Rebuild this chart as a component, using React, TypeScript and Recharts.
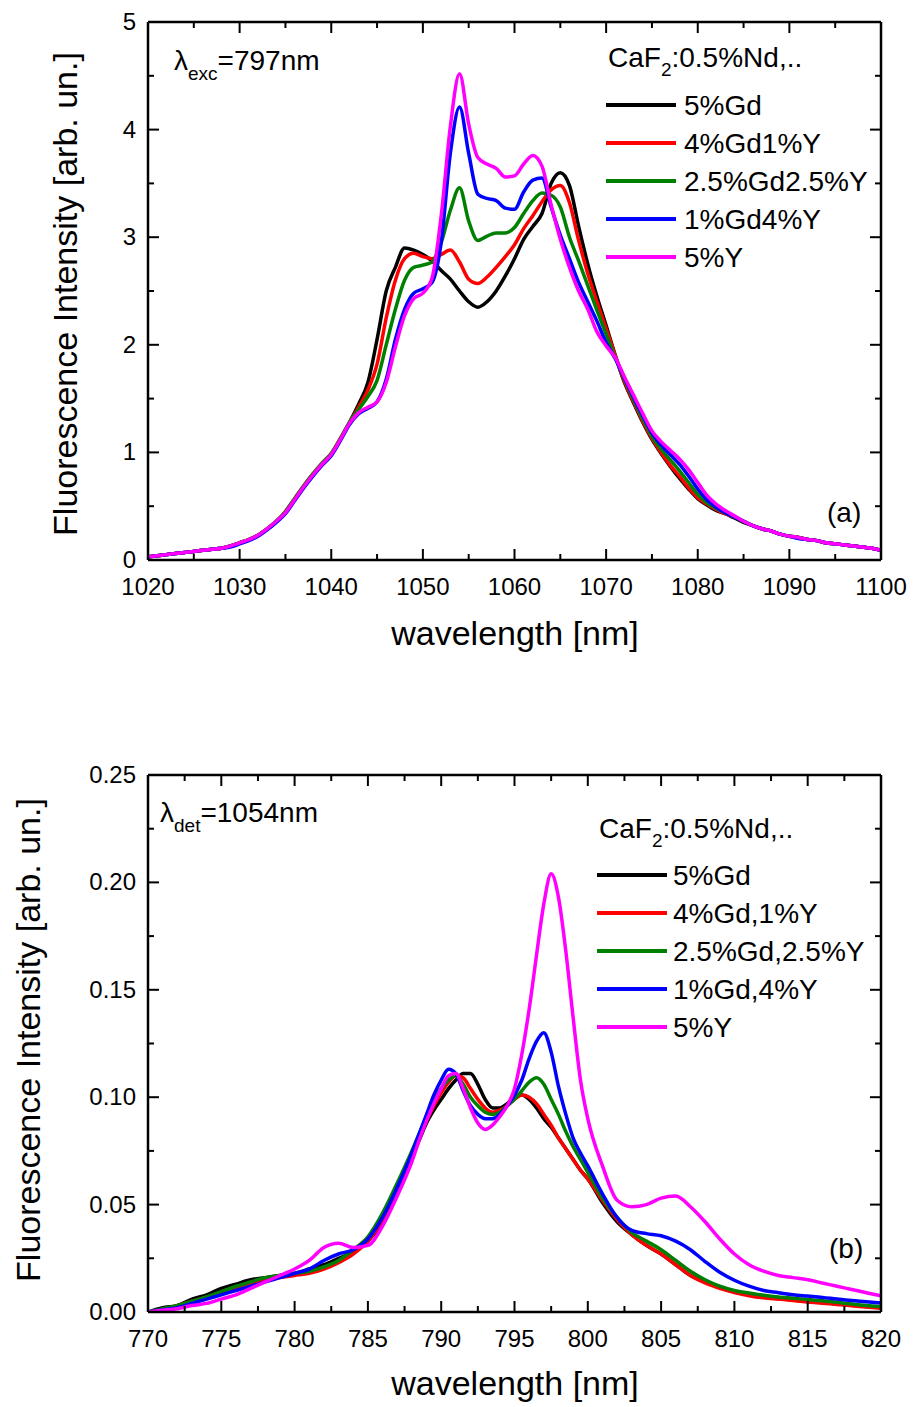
import React from 'react';
import { LineChart, Line, XAxis, YAxis } from 'recharts';

const FONT = '"Liberation Sans", Arial, sans-serif';

// ---- panel (a): emission, excitation at 797 nm ----
const wavelengthA = [
  1020, 1021, 1022, 1023, 1024, 1025, 1026, 1027, 1028, 1029,
  1030, 1031, 1032, 1033, 1034, 1035, 1036, 1037, 1038, 1039,
  1040, 1041, 1042, 1043, 1044, 1045, 1046, 1047, 1048, 1049,
  1050, 1051, 1052, 1053, 1054, 1055, 1056, 1057, 1058, 1059,
  1060, 1061, 1062, 1063, 1064, 1065, 1066, 1067, 1068, 1069,
  1070, 1071, 1072, 1073, 1074, 1075, 1076, 1077, 1078, 1079,
  1080, 1081, 1082, 1083, 1084, 1085, 1086, 1087, 1088, 1089,
  1090, 1091, 1092, 1093, 1094, 1095, 1096, 1097, 1098, 1099, 1100,
];
const gd5A = [
  0.03, 0.04, 0.05, 0.06, 0.07, 0.08, 0.09, 0.10, 0.11, 0.13, 0.16, 0.19, 0.23, 0.29, 0.36, 0.44, 0.56, 0.68, 0.79, 0.89, 0.98, 1.12, 1.28,
  1.45, 1.65, 2.05, 2.50, 2.72, 2.90, 2.88, 2.84, 2.78, 2.69, 2.61, 2.50, 2.40, 2.35, 2.40, 2.50, 2.64, 2.80, 2.98, 3.10, 3.22, 3.50, 3.60, 3.48, 3.10, 2.75, 2.45, 2.18, 1.90,
  1.65, 1.46, 1.28, 1.12, 0.99, 0.87, 0.76, 0.66, 0.57, 0.51, 0.46, 0.43, 0.39, 0.35, 0.32, 0.29, 0.27, 0.24, 0.22, 0.21, 0.19, 0.18, 0.16, 0.15, 0.14, 0.13, 0.12, 0.11, 0.09,
];
const gd4y1A = [
  0.03, 0.04, 0.05, 0.06, 0.07, 0.08, 0.09, 0.10, 0.11, 0.13, 0.16, 0.19, 0.23, 0.29, 0.36, 0.45, 0.57, 0.69, 0.80, 0.90, 0.99, 1.13, 1.28,
  1.42, 1.58, 1.82, 2.25, 2.60, 2.80, 2.85, 2.82, 2.80, 2.84, 2.88, 2.77, 2.61, 2.57, 2.63, 2.72, 2.82, 2.93, 3.08, 3.20, 3.33, 3.44, 3.48, 3.32, 2.97, 2.66, 2.40, 2.15, 1.90,
  1.66, 1.47, 1.29, 1.13, 1.00, 0.88, 0.78, 0.67, 0.58, 0.52, 0.47, 0.43, 0.40, 0.36, 0.32, 0.29, 0.27, 0.24, 0.22, 0.21, 0.19, 0.18, 0.16, 0.15, 0.14, 0.13, 0.12, 0.11, 0.09,
];
const gd25y25A = [
  0.03, 0.04, 0.05, 0.06, 0.07, 0.08, 0.09, 0.10, 0.11, 0.13, 0.16, 0.19, 0.23, 0.29, 0.36, 0.45, 0.57, 0.69, 0.80, 0.90, 0.99, 1.13, 1.28,
  1.40, 1.52, 1.67, 2.00, 2.33, 2.60, 2.72, 2.74, 2.77, 2.95, 3.25, 3.46, 3.15, 2.97, 3.01, 3.04, 3.04, 3.09, 3.22, 3.34, 3.41, 3.39, 3.28, 3.00, 2.78, 2.55, 2.32, 2.10, 1.88,
  1.68, 1.49, 1.31, 1.15, 1.03, 0.93, 0.83, 0.72, 0.61, 0.53, 0.48, 0.44, 0.40, 0.36, 0.32, 0.29, 0.27, 0.24, 0.22, 0.21, 0.19, 0.18, 0.16, 0.15, 0.14, 0.13, 0.12, 0.11, 0.09,
];
const gd1y4A = [
  0.03, 0.04, 0.05, 0.06, 0.07, 0.08, 0.09, 0.10, 0.11, 0.12, 0.15, 0.18, 0.22, 0.28, 0.35, 0.43, 0.55, 0.67, 0.78, 0.88, 0.97, 1.11, 1.26,
  1.36, 1.41, 1.47, 1.68, 2.05, 2.33, 2.48, 2.52, 2.58, 2.95, 3.78, 4.21, 3.78, 3.40, 3.36, 3.34, 3.27, 3.26, 3.42, 3.53, 3.55, 3.28, 3.02, 2.80, 2.58, 2.40, 2.22, 2.02, 1.87,
  1.69, 1.51, 1.34, 1.18, 1.07, 0.98, 0.89, 0.78, 0.66, 0.56, 0.49, 0.44, 0.40, 0.36, 0.32, 0.29, 0.27, 0.24, 0.22, 0.20, 0.19, 0.18, 0.16, 0.15, 0.14, 0.13, 0.12, 0.11, 0.09,
];
const y5A = [
  0.03, 0.04, 0.05, 0.06, 0.07, 0.08, 0.09, 0.10, 0.11, 0.13, 0.16, 0.19, 0.23, 0.29, 0.36, 0.44, 0.56, 0.68, 0.79, 0.89, 0.98, 1.12, 1.27,
  1.37, 1.42, 1.47, 1.65, 1.98, 2.27, 2.43, 2.48, 2.62, 3.20, 4.03, 4.52, 4.05, 3.74, 3.68, 3.64, 3.56, 3.57, 3.68, 3.76, 3.66, 3.30, 2.98, 2.72, 2.50, 2.33, 2.12, 1.99, 1.88,
  1.70, 1.53, 1.36, 1.20, 1.10, 1.02, 0.94, 0.84, 0.72, 0.60, 0.52, 0.46, 0.41, 0.36, 0.32, 0.29, 0.27, 0.24, 0.22, 0.21, 0.19, 0.18, 0.16, 0.15, 0.14, 0.13, 0.12, 0.11, 0.09,
];
const xTicksA = [1020, 1025, 1030, 1035, 1040, 1045, 1050, 1055, 1060, 1065, 1070, 1075, 1080, 1085, 1090, 1095, 1100];
const xMajorA = [1020, 1030, 1040, 1050, 1060, 1070, 1080, 1090, 1100];
const yTicksA = [0, 0.5, 1, 1.5, 2, 2.5, 3, 3.5, 4, 4.5, 5];
const yMajorA = [0, 1, 2, 3, 4, 5];
const namesA = ['5%Gd', '4%Gd1%Y', '2.5%Gd2.5%Y', '1%Gd4%Y', '5%Y'];

// ---- panel (b): excitation, detection at 1054 nm ----
const wavelengthB = [
  770, 771, 772, 773, 774, 775, 776, 777, 778, 779, 780, 781, 782, 783, 784, 785, 786, 787, 788,
  788.5, 789, 789.5, 790, 790.5, 791, 791.5, 792, 792.5, 793, 793.5, 794, 794.5, 795, 795.5, 796, 796.5, 797, 797.5, 798, 798.5, 799, 799.5, 800,
  801, 802, 803, 804, 805, 806, 807, 808, 809, 810, 811, 812, 813, 814, 815, 816, 817, 818, 819, 820,
];
const gd5B = [
  0.000, 0.002, 0.003, 0.006, 0.008, 0.011, 0.013, 0.015, 0.016, 0.017, 0.018, 0.020, 0.022, 0.025, 0.028, 0.033, 0.042, 0.057, 0.072,
  0.080, 0.088, 0.094, 0.099, 0.104, 0.108, 0.111, 0.111, 0.106, 0.099, 0.095, 0.095, 0.097, 0.100, 0.101, 0.099, 0.095, 0.090, 0.086, 0.081, 0.076, 0.071, 0.066, 0.062,
  0.051, 0.042, 0.036, 0.031, 0.027, 0.022, 0.017, 0.014, 0.0115, 0.0093, 0.008, 0.0069, 0.0062, 0.0056, 0.0049, 0.0044, 0.0038, 0.0031, 0.0025, 0.002,
];
const gd4y1B = [
  0.000, 0.001, 0.003, 0.005, 0.007, 0.009, 0.011, 0.013, 0.015, 0.016, 0.017, 0.018, 0.020, 0.023, 0.027, 0.033, 0.043, 0.058, 0.073,
  0.081, 0.089, 0.096, 0.102, 0.107, 0.110, 0.109, 0.104, 0.099, 0.095, 0.093, 0.094, 0.096, 0.099, 0.101, 0.100, 0.097, 0.092, 0.087, 0.081, 0.076, 0.071, 0.066, 0.062,
  0.052, 0.043, 0.036, 0.031, 0.027, 0.022, 0.017, 0.0135, 0.011, 0.0091, 0.0076, 0.0066, 0.006, 0.0054, 0.0047, 0.0041, 0.0035, 0.0029, 0.0023, 0.0018,
];
const gd25y25B = [
  0.000, 0.0015, 0.003, 0.005, 0.007, 0.0095, 0.012, 0.014, 0.016, 0.017, 0.018, 0.019, 0.021, 0.024, 0.029, 0.035, 0.046, 0.060, 0.075,
  0.083, 0.091, 0.098, 0.104, 0.108, 0.110, 0.106, 0.100, 0.096, 0.093, 0.092, 0.093, 0.096, 0.099, 0.103, 0.107, 0.109, 0.106, 0.099, 0.092, 0.084, 0.077, 0.071, 0.065,
  0.053, 0.044, 0.037, 0.033, 0.029, 0.024, 0.019, 0.015, 0.012, 0.010, 0.0088, 0.0078, 0.007, 0.0064, 0.0058, 0.0052, 0.0045, 0.0037, 0.003, 0.0025,
];
const gd1y4B = [
  0.000, 0.001, 0.002, 0.004, 0.006, 0.008, 0.010, 0.012, 0.014, 0.016, 0.018, 0.020, 0.024, 0.027, 0.029, 0.034, 0.044, 0.058, 0.074,
  0.083, 0.092, 0.101, 0.108, 0.113, 0.111, 0.103, 0.096, 0.092, 0.090, 0.090, 0.092, 0.096, 0.101, 0.108, 0.118, 0.126, 0.130, 0.121, 0.105, 0.092, 0.081, 0.074, 0.068,
  0.055, 0.044, 0.038, 0.0365, 0.0355, 0.033, 0.029, 0.0235, 0.0185, 0.0148, 0.012, 0.010, 0.009, 0.008, 0.0074, 0.0068, 0.006, 0.0053, 0.0048, 0.0042,
];
const y5B = [
  0.000, 0.0008, 0.0015, 0.003, 0.004, 0.006, 0.008, 0.011, 0.014, 0.017, 0.020, 0.024, 0.030, 0.032, 0.030, 0.031, 0.040, 0.054, 0.070,
  0.080, 0.089, 0.097, 0.104, 0.110, 0.111, 0.104, 0.095, 0.088, 0.085, 0.087, 0.091, 0.096, 0.104, 0.120, 0.141, 0.166, 0.190, 0.204, 0.193, 0.168, 0.137, 0.108, 0.090,
  0.068, 0.052, 0.049, 0.050, 0.053, 0.054, 0.049, 0.042, 0.034, 0.027, 0.022, 0.019, 0.017, 0.016, 0.015, 0.0135, 0.012, 0.0105, 0.009, 0.0075,
];
const xTicksB = [770, 772.5, 775, 777.5, 780, 782.5, 785, 787.5, 790, 792.5, 795, 797.5, 800, 802.5, 805, 807.5, 810, 812.5, 815, 817.5, 820];
const xMajorB = [770, 775, 780, 785, 790, 795, 800, 805, 810, 815, 820];
const yTicksB = [0, 0.025, 0.05, 0.075, 0.1, 0.125, 0.15, 0.175, 0.2, 0.225, 0.25];
const yMajorB = [0, 0.05, 0.1, 0.15, 0.2, 0.25];
const namesB = ['5%Gd', '4%Gd,1%Y', '2.5%Gd,2.5%Y', '1%Gd,4%Y', '5%Y'];

const keys = ['gd5', 'gd4y1', 'gd25y25', 'gd1y4', 'y5'];
const colors = ['#000000', '#ff0000', '#008000', '#0000ff', '#ff00ff'];

const dataA = wavelengthA.map((w, i) => ({
  w, gd5: gd5A[i], gd4y1: gd4y1A[i], gd25y25: gd25y25A[i], gd1y4: gd1y4A[i], y5: y5A[i],
}));
const dataB = wavelengthB.map((w, i) => ({
  w, gd5: gd5B[i], gd4y1: gd4y1B[i], gd25y25: gd25y25B[i], gd1y4: gd1y4B[i], y5: y5B[i],
}));

const isMajor = (v: number, majors: number[]) => majors.some((m) => Math.abs(m - v) < 1e-9);

// ticks point into the plot; labels only on the major ones
const makeTick = (side: 'bottom' | 'top' | 'left' | 'right', majors: number[], fmt?: (v: number) => string) =>
  (props: any) => {
    const { x, y, payload } = props;
    const v = payload.value;
    const major = isMajor(v, majors);
    const len = major ? 11 : 6;
    let line;
    if (side === 'bottom') line = <line x1={x} x2={x} y1={y} y2={y - len} />;
    else if (side === 'top') line = <line x1={x} x2={x} y1={y} y2={y + len} />;
    else if (side === 'left') line = <line x1={x} x2={x + len} y1={y} y2={y} />;
    else line = <line x1={x} x2={x - len} y1={y} y2={y} />;
    return (
      <g stroke="#000" strokeWidth={2}>
        {line}
        {fmt && major && side === 'bottom' && (
          <text x={x} y={y + 35} textAnchor="middle" fontSize={24} fontFamily={FONT} fill="#000" stroke="none">{fmt(v)}</text>
        )}
        {fmt && major && side === 'left' && (
          <text x={x - 12} y={y + 8} textAnchor="end" fontSize={24} fontFamily={FONT} fill="#000" stroke="none">{fmt(v)}</text>
        )}
      </g>
    );
  };

type PanelProps = {
  data: any[];
  height: number;
  top: number;
  xAxisHeight: number;
  xDomain: [number, number];
  xTicks: number[];
  xMajor: number[];
  yDomain: [number, number];
  yTicks: number[];
  yMajor: number[];
  yFmt: (v: number) => string;
};

const axisLine = { stroke: '#000', strokeWidth: 2.5 };

function Panel(p: PanelProps) {
  return (
    <LineChart width={914} height={p.height} data={p.data} margin={{ top: p.top - 1, right: 32, bottom: 0, left: 0 }}>
      <XAxis dataKey="w" type="number" domain={p.xDomain} ticks={p.xTicks} interval={0} allowDataOverflow
        height={p.xAxisHeight} tickSize={0} tickMargin={0} tickLine={false} axisLine={axisLine}
        tick={makeTick('bottom', p.xMajor, (v) => String(v))} />
      <XAxis xAxisId="top" orientation="top" dataKey="w" type="number" domain={p.xDomain} ticks={p.xTicks} interval={0}
        allowDataOverflow height={1} tickSize={0} tickMargin={0} tickLine={false} axisLine={axisLine}
        tick={makeTick('top', p.xMajor)} />
      <YAxis type="number" domain={p.yDomain} ticks={p.yTicks} interval={0} allowDataOverflow width={148}
        tickSize={0} tickMargin={0} tickLine={false} axisLine={axisLine} tick={makeTick('left', p.yMajor, p.yFmt)} />
      <YAxis yAxisId="right" orientation="right" type="number" domain={p.yDomain} ticks={p.yTicks} interval={0}
        allowDataOverflow width={1} tickSize={0} tickMargin={0} tickLine={false} axisLine={axisLine}
        tick={makeTick('right', p.yMajor)} />
      {keys.map((k, i) => (
        <Line key={k} dataKey={k} type="monotone" stroke={colors[i]} strokeWidth={3.5} dot={false} isAnimationActive={false} />
      ))}
    </LineChart>
  );
}

function Legend({ x, titleY, rowY, textX, names }: { x: number; titleY: number; rowY: number[]; textX: number; names: string[] }) {
  return (
    <g fontFamily={FONT} fontSize={28} fill="#000">
      <text x={x + 2} y={titleY}>
        CaF<tspan fontSize={19} dy={9}>2</tspan><tspan dy={-9}>:0.5%Nd,..</tspan>
      </text>
      {names.map((n, i) => (
        <g key={n}>
          <line x1={x} x2={x + 70} y1={rowY[i]} y2={rowY[i]} stroke={colors[i]} strokeWidth={4} />
          <text x={textX} y={rowY[i] + 10}>{n}</text>
        </g>
      ))}
    </g>
  );
}

export default function App() {
  return (
    <div style={{ position: 'absolute', left: 0, top: 0, width: 914, height: 1407, background: '#fff' }}>
      <div style={{ position: 'absolute', left: 0, top: 0 }}>
        <Panel data={dataA} height={700} top={22} xAxisHeight={140} xDomain={[1020, 1100]} xTicks={xTicksA} xMajor={xMajorA}
          yDomain={[0, 5]} yTicks={yTicksA} yMajor={yMajorA} yFmt={(v) => String(v)} />
      </div>
      <div style={{ position: 'absolute', left: 0, top: 700 }}>
        <Panel data={dataB} height={707} top={75} xAxisHeight={95} xDomain={[770, 820]} xTicks={xTicksB} xMajor={xMajorB}
          yDomain={[0, 0.25]} yTicks={yTicksB} yMajor={yMajorB} yFmt={(v) => v.toFixed(2)} />
      </div>
      <svg width={914} height={1407} style={{ position: 'absolute', left: 0, top: 0, pointerEvents: 'none' }}>
        <g fontFamily={FONT} fill="#000">
          {/* panel (a) annotations */}
          <text x={174} y={70} fontSize={28}>
            λ<tspan fontSize={19} dy={10}>exc</tspan><tspan dy={-10}>=797nm</tspan>
          </text>
          <text x={827} y={522} fontSize={28}>(a)</text>
          <text x={515} y={645} fontSize={34} textAnchor="middle">wavelength [nm]</text>
          <text x={77} y={294} fontSize={34} textAnchor="middle" transform="rotate(-90 77 294)">Fluorescence Intensity [arb. un.]</text>
          {/* panel (b) annotations */}
          <text x={160} y={822} fontSize={28}>
            λ<tspan fontSize={19} dy={10}>det</tspan><tspan dy={-10}>=1054nm</tspan>
          </text>
          <text x={829} y={1258} fontSize={28}>(b)</text>
          <text x={515} y={1395} fontSize={34} textAnchor="middle">wavelength [nm]</text>
          <text x={40} y={1040} fontSize={34} textAnchor="middle" transform="rotate(-90 40 1040)">Fluorescence Intensity [arb. un.]</text>
        </g>
        <Legend x={606} titleY={67} rowY={[105, 143, 181, 219, 257]} textX={684} names={namesA} />
        <Legend x={597} titleY={838} rowY={[875, 913, 951, 989, 1027]} textX={673} names={namesB} />
      </svg>
    </div>
  );
}
